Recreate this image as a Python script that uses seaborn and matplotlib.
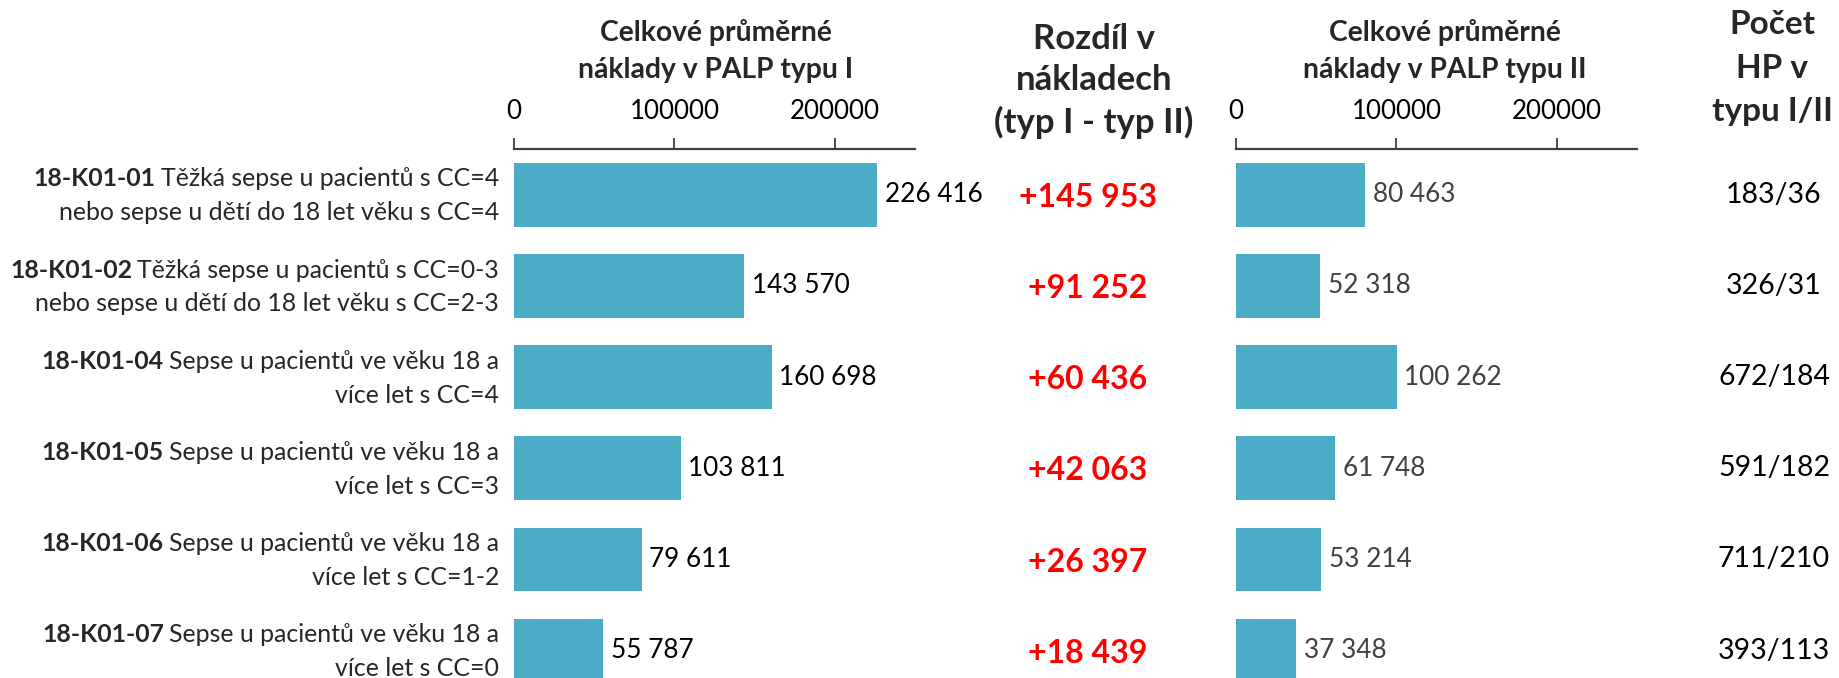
import numpy as np
import pandas as pd
import matplotlib
matplotlib.use("Agg")
import matplotlib.pyplot as plt
import seaborn as sns
from matplotlib.transforms import blended_transform_factory

# ---------------- data ----------------
codes = ["18-K01-01", "18-K01-02", "18-K01-04", "18-K01-05", "18-K01-06", "18-K01-07"]
desc_line1 = ["Těžká sepse u pacientů s CC=4",
              "Těžká sepse u pacientů s CC=0-3",
              "Sepse u pacientů ve věku 18 a",
              "Sepse u pacientů ve věku 18 a",
              "Sepse u pacientů ve věku 18 a",
              "Sepse u pacientů ve věku 18 a"]
desc_line2 = ["nebo sepse u dětí do 18 let věku s CC=4",
              "nebo sepse u dětí do 18 let věku s CC=2-3",
              "více let s CC=4",
              "více let s CC=3",
              "více let s CC=1-2",
              "více let s CC=0"]
cost_type1 = [226416, 143570, 160698, 103811, 79611, 55787]
cost_type2 = [80463, 52318, 100262, 61748, 53214, 37348]
cost_diff = [145953, 91252, 60436, 42063, 26397, 18439]
hp_counts = ["183/36", "326/31", "672/184", "591/182", "711/210", "393/113"]
x_ticks = [0, 100000, 200000]

title_type1 = "Celkové průměrné\nnáklady v PALP typu I"
title_type2 = "Celkové průměrné\nnáklady v PALP typu II"
title_diff = ["Rozdíl v", "nákladech", "(typ I - typ II)"]
title_count = ["Počet", "HP v", "typu I/II"]

df = pd.DataFrame({"code": codes, "type1": cost_type1, "type2": cost_type2})

# ---------------- style ----------------
sns.set_style("white")
plt.rcParams["font.family"] = ["Lato", "DejaVu Sans"]

BAR = "#4BACC6"
RED = "#FF0000"

W, H = 1839, 678
fig = plt.figure(figsize=(W / 100, H / 100), dpi=100)

def fx(px):
    return px / W

def fy(py):
    return 1 - py / H

ax_h = 529 / H
ax1 = fig.add_axes([fx(514), 0, 401 / W, ax_h])
ax2 = fig.add_axes([fx(1236), 0, 401 / W, ax_h])

def fmt(v):
    return f"{v:,}".replace(",", " ")

for ax, col, lab_color in [(ax1, "type1", "black"), (ax2, "type2", "#404040")]:
    sns.barplot(data=df, y="code", x=col, ax=ax, color=BAR, width=0.7,
                orient="h", linewidth=0, saturation=1)
    ax.set_xlim(0, 250000)
    ax.set_ylim(5.30, -0.5)
    ax.set_xlabel("")
    ax.set_ylabel("")
    ax.set_yticks([])
    ax.xaxis.tick_top()
    ax.set_xticks(x_ticks)
    ax.set_xticklabels([str(t) for t in x_ticks])
    ax.tick_params(axis="x", which="both", top=True, bottom=False, direction="out",
                   length=8, width=1.3, color="#404040", pad=10, labelsize=18.6,
                   labelcolor="black")
    for s in ["left", "right", "bottom"]:
        ax.spines[s].set_visible(False)
    ax.spines["top"].set_visible(True)
    ax.spines["top"].set_color("#404040")
    ax.spines["top"].set_linewidth(1.6)
    ax.patch.set_alpha(0)
    for p, v in zip(ax.patches, df[col]):
        ax.annotate(fmt(v), xy=(p.get_x() + p.get_width(), p.get_y() + p.get_height() / 2),
                    xytext=(5.5, 0), textcoords="offset points", ha="left", va="center",
                    fontsize=18.8, color=lab_color)

# panel titles
for cx, title in [(716, title_type1), (1445, title_type2)]:
    l1, l2 = title.split("\n")
    fig.text(fx(cx), fy(33), l1, ha="center", va="center", fontsize=20.3, fontweight="bold")
    fig.text(fx(cx), fy(70), l2, ha="center", va="center", fontsize=20.3, fontweight="bold")

# difference header
for py, t in zip([39, 80, 122], title_diff):
    fig.text(fx(1094), fy(py), t, ha="center", va="center", fontsize=25, fontweight="bold")
# count header
for py, t in zip([24, 68, 112], title_count):
    fig.text(fx(1772), fy(py), t, ha="center", va="center", fontsize=24, fontweight="bold")

trans = blended_transform_factory(fig.transFigure, ax1.transData)
ypos = np.arange(len(codes))

fig.canvas.draw()
renderer = fig.canvas.get_renderer()

for i, y in enumerate(ypos):
    # category labels
    t1 = fig.text(fx(499), y - 0.09, desc_line1[i], transform=trans, ha="right",
                  va="baseline", fontsize=17.9)
    fig.text(fx(499), y + 0.28, desc_line2[i], transform=trans, ha="right",
             va="baseline", fontsize=17.9)
    bb = t1.get_window_extent(renderer=renderer)
    fig.text(fx(bb.x0 - 5), y - 0.09, codes[i], transform=trans, ha="right",
             va="baseline", fontsize=17.9, fontweight="bold")
    # difference
    fig.text(fx(1088), y + 0.03, "+" + fmt(cost_diff[i]), transform=trans, ha="center",
             va="center", fontsize=23, fontweight="bold", color=RED)
    # counts
    fig.text(fx(1774), y, hp_counts[i], transform=trans, ha="center", va="center",
             fontsize=20.5, color="black")

fig.savefig("out.png", dpi=100)
